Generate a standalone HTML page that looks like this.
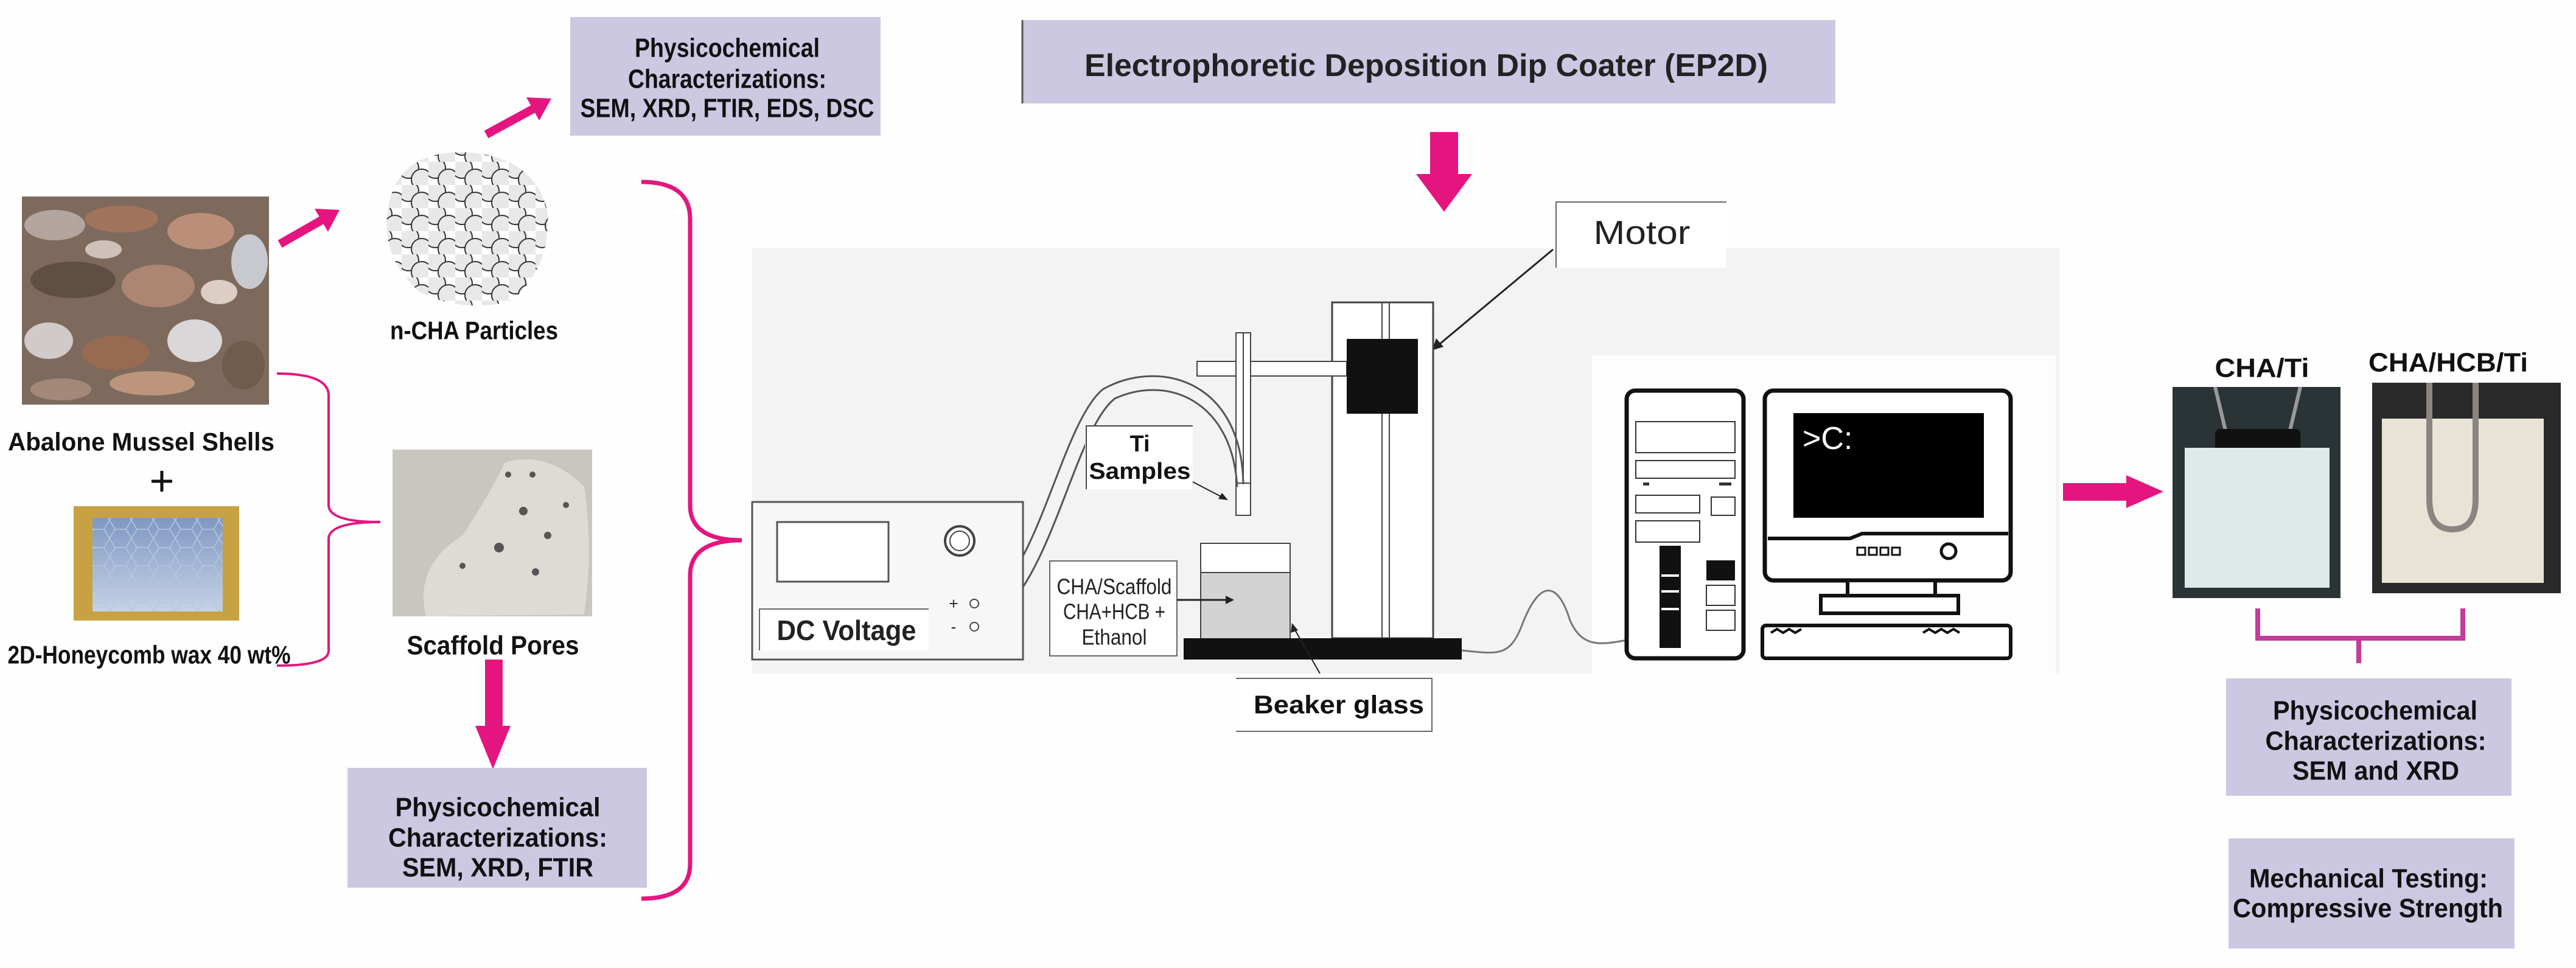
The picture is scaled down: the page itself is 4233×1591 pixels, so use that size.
<!DOCTYPE html>
<html><head><meta charset="utf-8"><style>
html,body{margin:0;padding:0;background:#fff;}
svg{display:block;}
text{font-family:"Liberation Sans",sans-serif;}
.b{font-weight:bold;fill:#111;}
</style></head><body>
<svg width="4233" height="1591" viewBox="0 0 4233 1591" xmlns="http://www.w3.org/2000/svg">
<defs>
<pattern id="cir" width="44" height="38" patternUnits="userSpaceOnUse">
<circle cx="11" cy="10" r="17" fill="#e8e8e8" stroke="#333" stroke-width="2"/>
<circle cx="33" cy="29" r="17" fill="#e8e8e8" stroke="#333" stroke-width="2"/>
</pattern>
<pattern id="hex" width="36" height="30" patternUnits="userSpaceOnUse">
<path d="M0,15 L9,0 L27,0 L36,15 L27,30 L9,30 Z" fill="none" stroke="#b7c6de" stroke-width="1.5"/>
</pattern>
<linearGradient id="hg" x1="0" y1="0" x2="0" y2="1"><stop offset="0" stop-color="#7f98c2"/><stop offset="1" stop-color="#c5d2e6"/></linearGradient>
</defs>
<rect width="4233" height="1591" fill="#fefefe"/>

<!-- top-left box -->
<rect x="937" y="28" width="510" height="195" fill="#ccc8e2"/>
<text class="b" x="1195" y="79" font-size="44" text-anchor="middle" dominant-baseline="central" textLength="304" lengthAdjust="spacingAndGlyphs">Physicochemical</text>
<text class="b" x="1195" y="130" font-size="44" text-anchor="middle" dominant-baseline="central" textLength="326" lengthAdjust="spacingAndGlyphs">Characterizations:</text>
<text class="b" x="1195" y="178" font-size="44" text-anchor="middle" dominant-baseline="central" textLength="483" lengthAdjust="spacingAndGlyphs">SEM, XRD, FTIR, EDS, DSC</text>

<!-- shells photo -->
<rect x="36" y="323" width="406" height="342" fill="#7e6a5c"/>
<g opacity="0.9">
<ellipse cx="90" cy="370" rx="50" ry="25" fill="#b9aca6"/>
<ellipse cx="200" cy="360" rx="60" ry="22" fill="#a7765e"/>
<ellipse cx="330" cy="380" rx="55" ry="30" fill="#c1937c"/>
<ellipse cx="410" cy="430" rx="30" ry="45" fill="#cfd4dc"/>
<ellipse cx="120" cy="460" rx="70" ry="30" fill="#5e4c40"/>
<ellipse cx="260" cy="470" rx="60" ry="35" fill="#b08a76"/>
<ellipse cx="80" cy="560" rx="40" ry="30" fill="#d9d6d6"/>
<ellipse cx="190" cy="580" rx="55" ry="28" fill="#9b6a52"/>
<ellipse cx="320" cy="560" rx="45" ry="35" fill="#e3e3e6"/>
<ellipse cx="400" cy="600" rx="35" ry="40" fill="#6f5a4b"/>
<ellipse cx="250" cy="630" rx="70" ry="20" fill="#c49a80"/>
<ellipse cx="100" cy="640" rx="50" ry="18" fill="#a88c7c"/>
<ellipse cx="360" cy="480" rx="30" ry="20" fill="#e8d9cf"/>
<ellipse cx="170" cy="410" rx="30" ry="15" fill="#d7cbc5"/>
</g>

<!-- arrows -->
<line x1="460" y1="401" x2="530" y2="361" stroke="#e5157f" stroke-width="14"/>
<polygon points="558,345 539,381 517,343" fill="#e5157f"/>
<line x1="799" y1="221" x2="878" y2="178" stroke="#e5157f" stroke-width="14"/>
<polygon points="906,162 886,198 865,160" fill="#e5157f"/>

<!-- particles -->
<path d="M640,330 Q660,250 760,250 Q880,255 900,350 Q905,440 840,495 Q760,515 690,480 Q620,420 640,330 Z" fill="url(#cir)"/>
<text class="b" x="779" y="543" font-size="42" text-anchor="middle" dominant-baseline="central" textLength="276" lengthAdjust="spacingAndGlyphs">n-CHA Particles</text>

<text class="b" x="232" y="726" font-size="42" text-anchor="middle" dominant-baseline="central" textLength="438" lengthAdjust="spacingAndGlyphs">Abalone  Mussel Shells</text>
<text x="266" y="790" font-size="70" text-anchor="middle" dominant-baseline="central" fill="#111">+</text>

<!-- honeycomb -->
<rect x="121" y="832" width="272" height="188" fill="#c7a142"/>
<rect x="152" y="851" width="214" height="154" fill="url(#hg)"/>
<rect x="152" y="851" width="214" height="154" fill="url(#hex)"/>
<text class="b" x="245" y="1076" font-size="42" text-anchor="middle" dominant-baseline="central" textLength="465" lengthAdjust="spacingAndGlyphs">2D-Honeycomb wax 40 wt%</text>

<!-- small bracket -->
<path d="M455,614 Q540,614 540,650 L540,830 Q540,858 625,858 Q540,858 540,886 L540,1070 Q540,1094 455,1094" fill="none" stroke="#e5157f" stroke-width="4"/>

<!-- scaffold photo -->
<rect x="645" y="739" width="328" height="274" fill="#c9c6bf"/>
<path d="M830,760 Q900,740 960,800 Q975,900 960,1010 L700,1013 Q680,930 760,880 Q800,820 830,760 Z" fill="#dedbd4"/>
<g fill="#555">
<circle cx="835" cy="780" r="5"/><circle cx="875" cy="780" r="5"/><circle cx="860" cy="840" r="7"/><circle cx="900" cy="880" r="6"/><circle cx="820" cy="900" r="8"/><circle cx="880" cy="940" r="6"/><circle cx="760" cy="930" r="5"/><circle cx="930" cy="830" r="5"/>
</g>
<text class="b" x="810" y="1061" font-size="44" text-anchor="middle" dominant-baseline="central" textLength="283" lengthAdjust="spacingAndGlyphs">Scaffold Pores</text>

<!-- down arrow -->
<rect x="797" y="1084" width="29" height="112" fill="#e5157f"/>
<polygon points="781,1193 839,1193 810,1264" fill="#e5157f"/>

<!-- bottom-left box -->
<rect x="571" y="1262" width="492" height="197" fill="#ccc8e2"/>
<text class="b" x="818" y="1327" font-size="44" text-anchor="middle" dominant-baseline="central" textLength="337" lengthAdjust="spacingAndGlyphs">Physicochemical</text>
<text class="b" x="818" y="1377" font-size="44" text-anchor="middle" dominant-baseline="central" textLength="360" lengthAdjust="spacingAndGlyphs">Characterizations:</text>
<text class="b" x="818" y="1426" font-size="44" text-anchor="middle" dominant-baseline="central" textLength="314" lengthAdjust="spacingAndGlyphs">SEM, XRD, FTIR</text>

<!-- big bracket -->
<path d="M1054,299 Q1134,299 1134,360 L1134,830 Q1134,888 1219,888 Q1134,888 1134,946 L1134,1420 Q1134,1477 1054,1477" fill="none" stroke="#e5157f" stroke-width="7"/>

<!-- EP2D title -->
<rect x="1679" y="33" width="1337" height="137" fill="#ccc8e2"/>
<line x1="1680" y1="33" x2="1680" y2="170" stroke="#555" stroke-width="3"/>
<text x="1782" y="108" font-size="52" dominant-baseline="central" fill="#222" font-weight="bold" textLength="1123" lengthAdjust="spacingAndGlyphs">Electrophoretic Deposition Dip Coater (EP2D)</text>
<rect x="2350" y="217" width="46" height="72" fill="#e5157f"/>
<polygon points="2327,286 2419,286 2373,348" fill="#e5157f"/>

<!-- gray panel -->
<rect x="1236" y="408" width="2148" height="699" fill="#f3f3f3"/>
<rect x="2616" y="584" width="762" height="527" fill="#fdfdfd"/>

<!-- Motor label -->
<rect x="2557" y="332" width="280" height="108" fill="#fff"/>
<path d="M2557,440 L2557,332 L2837,332" fill="none" stroke="#666" stroke-width="2"/>
<text x="2698" y="382" font-size="55" text-anchor="middle" dominant-baseline="central" fill="#222" textLength="159" lengthAdjust="spacingAndGlyphs">Motor</text>
<line x1="2552" y1="410" x2="2365" y2="566" stroke="#222" stroke-width="3"/>
<polygon points="2353,576 2360,556 2372,570" fill="#222"/>

<!-- stand -->
<rect x="2189" y="497" width="166" height="552" fill="#fff" stroke="#444" stroke-width="3"/>
<line x1="2271" y1="497" x2="2271" y2="1049" stroke="#444" stroke-width="2"/>
<line x1="2283" y1="497" x2="2283" y2="1049" stroke="#444" stroke-width="2"/>
<rect x="1967" y="594" width="246" height="24" fill="#fff" stroke="#444" stroke-width="2"/>
<rect x="2031" y="547" width="24" height="300" fill="#fff" stroke="#444" stroke-width="2"/>
<line x1="2043" y1="547" x2="2043" y2="794" stroke="#444" stroke-width="2"/>
<line x1="2031" y1="794" x2="2055" y2="794" stroke="#444" stroke-width="2"/>
<rect x="2213" y="557" width="117" height="123" fill="#111"/>
<!-- beaker -->
<rect x="1973" y="893" width="147" height="156" fill="#fff" stroke="#444" stroke-width="2"/>
<rect x="1974" y="941" width="145" height="108" fill="#d3d3d3"/>
<line x1="1973" y1="941" x2="2120" y2="941" stroke="#444" stroke-width="2"/>
<rect x="1945" y="1049" width="457" height="35" fill="#111"/>

<!-- wires -->
<path d="M1601,992 C1700,980 1740,700 1812,640 C1900,590 2040,620 2043,796" fill="none" stroke="#555" stroke-width="3"/>
<path d="M1601,1030 C1720,1010 1760,710 1832,655 C1920,615 2025,660 2033,800" fill="none" stroke="#555" stroke-width="3"/>

<!-- DC voltage -->
<rect x="1236" y="825" width="445" height="259" fill="#f7f7f7" stroke="#555" stroke-width="3"/>
<rect x="1277" y="858" width="183" height="98" fill="#fff" stroke="#555" stroke-width="3"/>
<circle cx="1577" cy="889" r="24" fill="#fff" stroke="#444" stroke-width="4"/>
<circle cx="1577" cy="889" r="16" fill="#fff" stroke="#444" stroke-width="2"/>
<rect x="1246" y="1001" width="280" height="68" fill="#fff"/>
<path d="M1248,1069 L1248,1001 L1526,1001" fill="none" stroke="#666" stroke-width="2"/>
<text x="1391" y="1036" font-size="46" text-anchor="middle" dominant-baseline="central" font-weight="bold" fill="#222" textLength="229" lengthAdjust="spacingAndGlyphs">DC Voltage</text>
<text x="1567" y="992" font-size="26" text-anchor="middle" dominant-baseline="central" fill="#222">+</text>
<text x="1567" y="1030" font-size="26" text-anchor="middle" dominant-baseline="central" fill="#222">-</text>
<circle cx="1601" cy="992" r="7" fill="#fff" stroke="#444" stroke-width="2"/>
<circle cx="1601" cy="1030" r="7" fill="#fff" stroke="#444" stroke-width="2"/>

<!-- Ti samples -->
<rect x="1783" y="700" width="177" height="104" fill="#fff"/>
<path d="M1785,804 L1785,700 L1960,700" fill="none" stroke="#444" stroke-width="2"/>
<text class="b" x="1873" y="730" font-size="38" text-anchor="middle" dominant-baseline="central">Ti</text>
<text class="b" x="1873" y="775" font-size="38" text-anchor="middle" dominant-baseline="central" textLength="167" lengthAdjust="spacingAndGlyphs">Samples</text>
<line x1="1960" y1="792" x2="2010" y2="818" stroke="#222" stroke-width="2"/>
<polygon points="2018,822 2002,820 2008,810" fill="#222"/>

<!-- CHA/Scaffold label -->
<rect x="1725" y="922" width="209" height="156" fill="#fff" stroke="#666" stroke-width="2"/>
<text x="1831" y="964" font-size="36" text-anchor="middle" dominant-baseline="central" fill="#222" textLength="189" lengthAdjust="spacingAndGlyphs">CHA/Scaffold</text>
<text x="1831" y="1005" font-size="36" text-anchor="middle" dominant-baseline="central" fill="#222" textLength="168" lengthAdjust="spacingAndGlyphs">CHA+HCB +</text>
<text x="1831" y="1047" font-size="36" text-anchor="middle" dominant-baseline="central" fill="#222" textLength="107" lengthAdjust="spacingAndGlyphs">Ethanol</text>
<line x1="1934" y1="986" x2="2018" y2="986" stroke="#222" stroke-width="3"/>
<polygon points="2028,986 2014,979 2014,993" fill="#222"/>

<!-- Beaker glass label -->
<rect x="2031" y="1115" width="322" height="87" fill="#fff"/>
<path d="M2031,1115 L2353,1115 L2353,1202 L2031,1202" fill="none" stroke="#666" stroke-width="2"/>
<text class="b" x="2200" y="1158" font-size="42" text-anchor="middle" dominant-baseline="central" textLength="280" lengthAdjust="spacingAndGlyphs">Beaker glass</text>
<line x1="2169" y1="1107" x2="2126" y2="1032" stroke="#222" stroke-width="2"/>
<polygon points="2123,1024 2133,1036 2121,1040" fill="#222"/>

<!-- cable -->
<path d="M2402,1069 C2460,1075 2480,1080 2500,1030 C2530,950 2560,955 2580,1020 C2600,1065 2630,1060 2673,1052" fill="none" stroke="#777" stroke-width="3"/>

<!-- computer tower -->
<rect x="2673" y="642" width="192" height="440" rx="14" fill="#fff" stroke="#111" stroke-width="7"/>
<rect x="2688" y="693" width="163" height="51" fill="#fff" stroke="#333" stroke-width="2"/>
<rect x="2688" y="757" width="163" height="29" fill="#fff" stroke="#333" stroke-width="2"/>
<rect x="2700" y="793" width="10" height="5" fill="#333"/><rect x="2825" y="793" width="20" height="5" fill="#333"/>
<rect x="2688" y="814" width="105" height="29" fill="#fff" stroke="#333" stroke-width="2"/>
<rect x="2812" y="817" width="39" height="30" fill="#fff" stroke="#333" stroke-width="2"/>
<rect x="2688" y="856" width="105" height="35" fill="#fff" stroke="#333" stroke-width="2"/>
<rect x="2727" y="897" width="35" height="168" fill="#111"/>
<rect x="2730" y="944" width="29" height="4" fill="#fff"/><rect x="2730" y="970" width="29" height="4" fill="#fff"/><rect x="2730" y="999" width="29" height="4" fill="#fff"/>
<rect x="2804" y="921" width="47" height="33" fill="#111"/>
<rect x="2804" y="962" width="47" height="33" fill="#fff" stroke="#333" stroke-width="2"/>
<rect x="2804" y="1003" width="47" height="33" fill="#fff" stroke="#333" stroke-width="2"/>

<!-- monitor -->
<rect x="2900" y="642" width="404" height="312" rx="14" fill="#fff" stroke="#111" stroke-width="7"/>
<rect x="2947" y="679" width="313" height="172" fill="#000"/>
<text x="2962" y="721" font-size="52" dominant-baseline="central" fill="#fff">&gt;C:</text>
<path d="M2905,885 L3040,885 L3060,877 L3300,877" fill="none" stroke="#111" stroke-width="6"/>
<rect x="3052" y="900" width="13" height="12" fill="none" stroke="#111" stroke-width="3"/>
<rect x="3071" y="900" width="13" height="12" fill="none" stroke="#111" stroke-width="3"/>
<rect x="3090" y="900" width="13" height="12" fill="none" stroke="#111" stroke-width="3"/>
<rect x="3109" y="900" width="13" height="12" fill="none" stroke="#111" stroke-width="3"/>
<circle cx="3202" cy="906" r="12" fill="#fff" stroke="#111" stroke-width="5"/>
<rect x="3036" y="954" width="144" height="25" fill="#fff" stroke="#111" stroke-width="6"/>
<rect x="2992" y="979" width="226" height="29" fill="#fff" stroke="#111" stroke-width="6"/>
<rect x="2896" y="1028" width="408" height="54" rx="6" fill="#fff" stroke="#111" stroke-width="6"/>
<path d="M2910,1040 l10,-6 l10,6 l10,-6 l10,6 l10,-6 M3160,1040 l10,-6 l10,6 l10,-6 l10,6 l10,-6 l10,6" fill="none" stroke="#111" stroke-width="4"/>

<!-- right arrow -->
<rect x="3390" y="794" width="108" height="29" fill="#e5157f"/>
<polygon points="3494,781 3555,808 3494,835" fill="#e5157f"/>

<!-- sample photos -->
<text class="b" x="3717" y="605" font-size="44" text-anchor="middle" dominant-baseline="central" textLength="155" lengthAdjust="spacingAndGlyphs">CHA/Ti</text>
<text class="b" x="4023" y="596" font-size="44" text-anchor="middle" dominant-baseline="central" textLength="262" lengthAdjust="spacingAndGlyphs">CHA/HCB/Ti</text>
<rect x="3570" y="636" width="276" height="347" fill="#2a3336"/>
<path d="M3640,636 L3660,720 M3780,636 L3760,720" stroke="#999" stroke-width="6"/>
<rect x="3640" y="705" width="140" height="38" rx="8" fill="#111"/>
<rect x="3590" y="736" width="238" height="230" fill="#dfe9e9"/>
<rect x="3898" y="629" width="310" height="346" fill="#2b2a2a"/>
<rect x="3914" y="688" width="266" height="270" fill="#e9e3d6"/>
<path d="M3992,629 L3992,820 Q3992,870 4030,870 Q4068,870 4068,820 L4068,629" fill="none" stroke="#8a8580" stroke-width="10"/>

<!-- right bracket -->
<path d="M3710,1000 L3710,1049 L4047,1049 L4047,1000 M3876,1049 L3876,1090" fill="none" stroke="#c23c9a" stroke-width="8"/>

<!-- right boxes -->
<rect x="3658" y="1115" width="469" height="193" fill="#ccc8e2"/>
<text class="b" x="3903" y="1168" font-size="44" text-anchor="middle" dominant-baseline="central" textLength="336" lengthAdjust="spacingAndGlyphs">Physicochemical</text>
<text class="b" x="3904" y="1218" font-size="44" text-anchor="middle" dominant-baseline="central" textLength="363" lengthAdjust="spacingAndGlyphs">Characterizations:</text>
<text class="b" x="3904" y="1267" font-size="44" text-anchor="middle" dominant-baseline="central" textLength="274" lengthAdjust="spacingAndGlyphs">SEM and XRD</text>
<rect x="3662" y="1378" width="470" height="181" fill="#ccc8e2"/>
<text class="b" x="3892" y="1444" font-size="44" text-anchor="middle" dominant-baseline="central" textLength="392" lengthAdjust="spacingAndGlyphs">Mechanical Testing:</text>
<text class="b" x="3891" y="1493" font-size="44" text-anchor="middle" dominant-baseline="central" textLength="444" lengthAdjust="spacingAndGlyphs">Compressive Strength</text>
</svg>
</body></html>
